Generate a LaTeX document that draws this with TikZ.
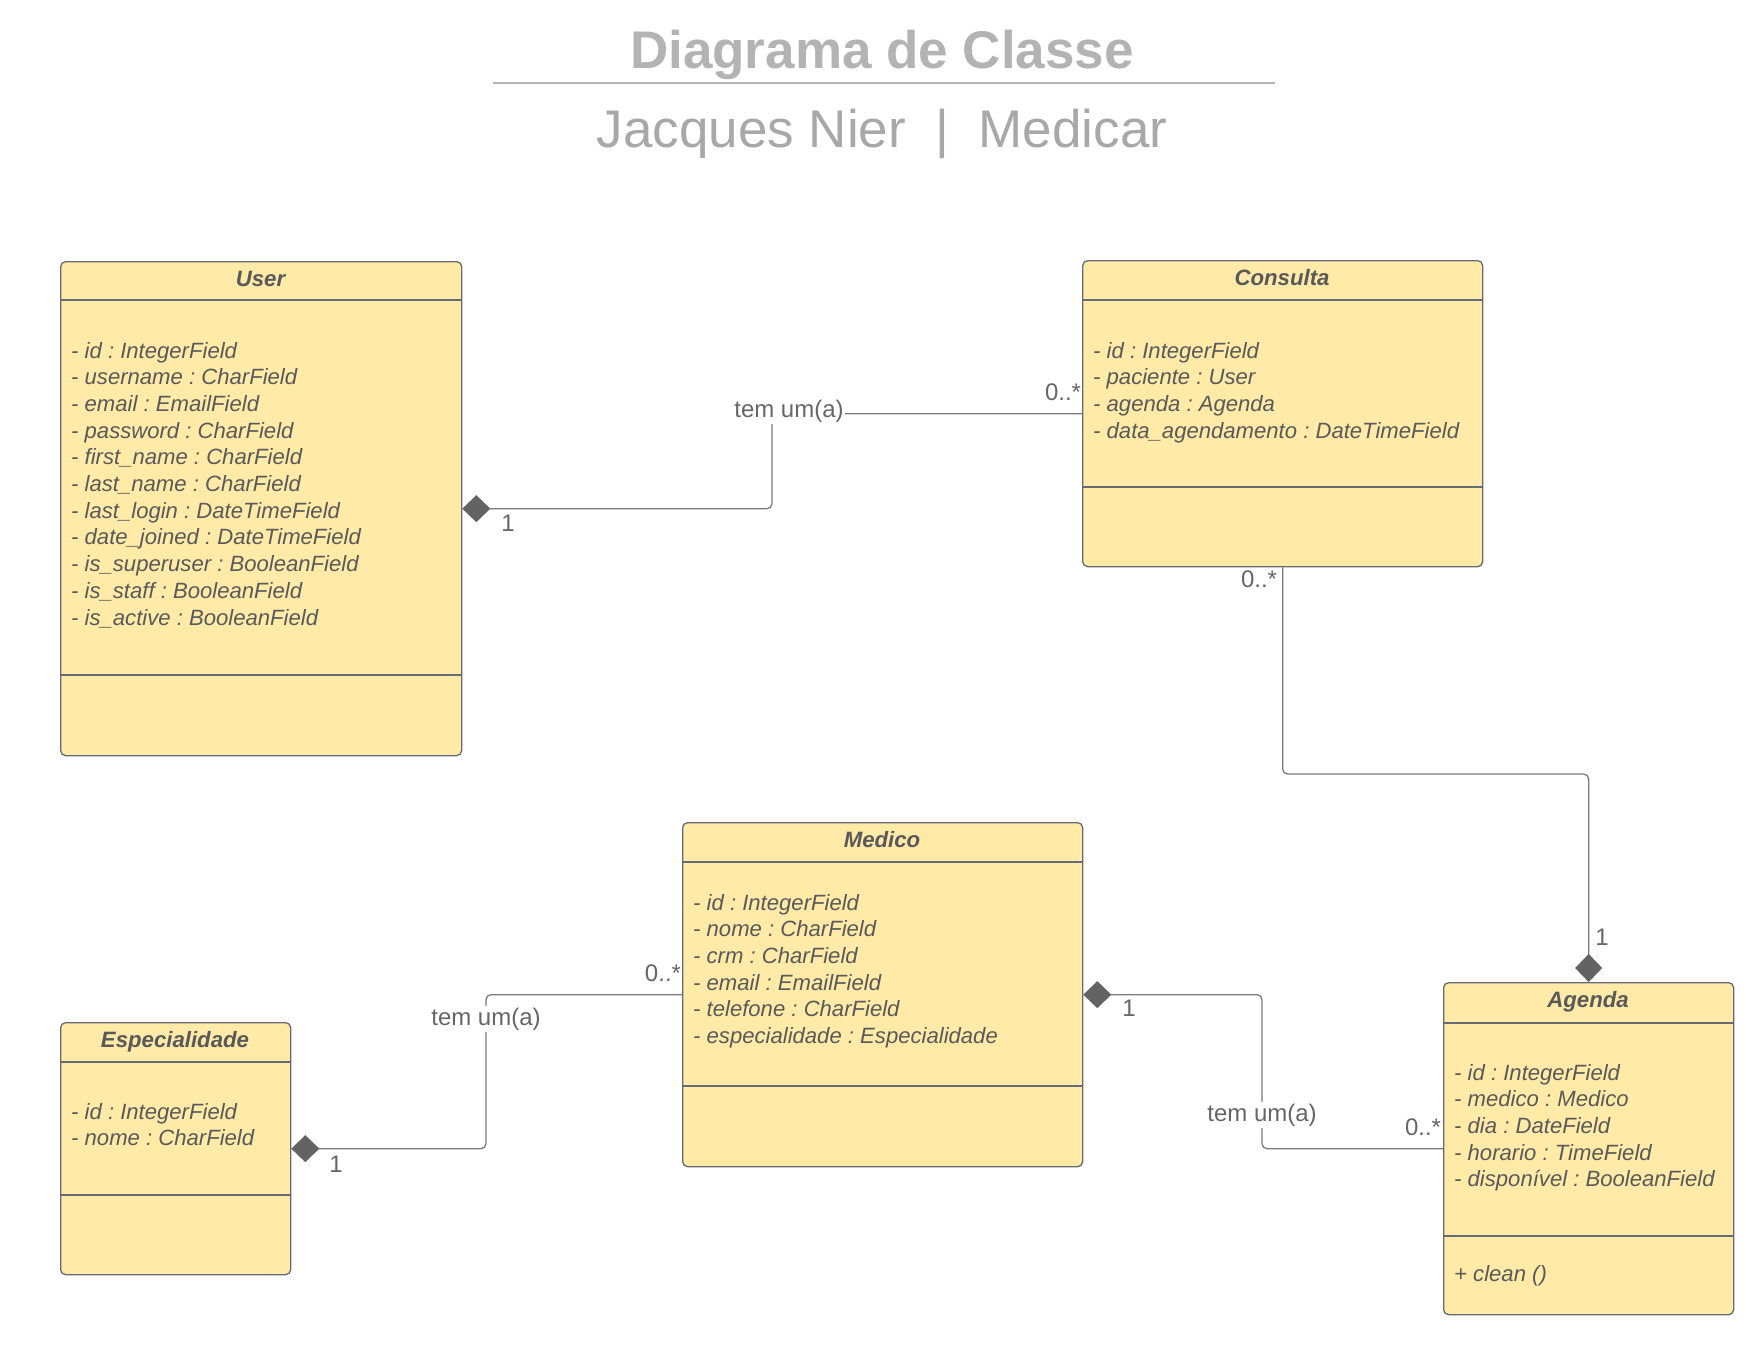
\documentclass[tikz,border=0pt]{standalone}
\usepackage{fontspec}
\setmainfont{Liberation Sans}
\usetikzlibrary{arrows.meta}
\frenchspacing
\definecolor{boxfill}{HTML}{FFEAA7}
\definecolor{boxline}{HTML}{666A73}
\definecolor{txt}{HTML}{595959}
\definecolor{lbl}{HTML}{666666}
\definecolor{connc}{HTML}{7A7A7A}
\definecolor{dia}{HTML}{636363}
\definecolor{ttl}{HTML}{B3B3B3}
\definecolor{subc}{HTML}{A8A8A8}
\tikzset{
  classbox/.style={draw=boxline, fill=boxfill, line width=1.3pt, rounded corners=5pt, inner sep=0pt, anchor=north west},
  divider/.style={draw=boxline, line width=1.3pt},
  ctitle/.style={anchor=base, inner sep=0pt, text=txt, font=\fontsize{22.2}{26.7}\selectfont\bfseries\itshape},
  attr/.style={anchor=base west, inner sep=0pt, text=txt, font=\fontsize{22.1}{26.7}\selectfont\itshape},
  conn/.style={draw=connc, line width=1.3pt, rounded corners=5pt},
  compstart/.style={{Diamond[length=28pt,width=27pt,fill=dia,color=dia]}-},
  compend/.style={-{Diamond[length=28pt,width=27pt,fill=dia,color=dia]}},
  mult/.style={inner sep=0pt, text=lbl, font=\fontsize{24}{28}\selectfont},
  assoc/.style={inner sep=1.5pt, fill=white, text=lbl, font=\fontsize{24}{28}\selectfont},
  heading/.style={anchor=base, inner sep=0pt, text=ttl, font=\fontsize{53}{60}\selectfont\bfseries},
  subheading/.style={anchor=base, inner sep=0pt, text=subc, font=\fontsize{53}{60}\selectfont},
}
\begin{document}
\begin{tikzpicture}[x=1pt, y=-1pt]
\useasboundingbox (0,0) rectangle (1763,1360);
\fill[white] (0,0) rectangle (1763,1360);

% Title
\node[heading] (title) at (882,68) {Diagrama de Classe};
\draw[ttl, line width=1.6pt] (493,83) -- (1275,83);
\node[subheading] (subtitle) at (882,147) {Jacques Nier~~|~~Medicar};

% User
\node[classbox, minimum width=401pt, minimum height=494pt] (user) at (60,261) {};
\draw[divider] (60,300) -- (461,300);
\draw[divider] (60,675) -- (461,675);
\node[ctitle] (usert) at (260.5,286) {User};
\foreach [count=\i] \t in {- id : IntegerField, - username : CharField, - email : EmailField, - password : CharField, - first\_name : CharField, - last\_name : CharField, - last\_login : DateTimeField, - date\_joined : DateTimeField, - is\_superuser : BooleanField, - is\_staff : BooleanField, - is\_active : BooleanField}
  \node[attr] (ua\i) at (71,{358+26.7*(\i-1)}) {\t};

% Consulta
\node[classbox, minimum width=400pt, minimum height=306pt] (consulta) at (1082,260) {};
\draw[divider] (1082,300) -- (1482,300);
\draw[divider] (1082,487) -- (1482,487);
\node[ctitle] (consultat) at (1282,285) {Consulta};
\foreach [count=\i] \t in {- id : IntegerField, - paciente : User, - agenda : Agenda, - data\_agendamento : DateTimeField}
  \node[attr] (ca\i) at (1093,{358+26.7*(\i-1)}) {\t};

% Medico
\node[classbox, minimum width=400pt, minimum height=344pt] (medico) at (682,822) {};
\draw[divider] (682,862) -- (1082,862);
\draw[divider] (682,1086) -- (1082,1086);
\node[ctitle] (medicot) at (882,847) {Medico};
\foreach [count=\i] \t in {- id : IntegerField, - nome : CharField, - crm : CharField, - email : EmailField, - telefone : CharField, - especialidade : Especialidade}
  \node[attr] (ma\i) at (693,{910+26.7*(\i-1)}) {\t};

% Especialidade
\node[classbox, minimum width=230pt, minimum height=252pt] (espec) at (60,1022) {};
\draw[divider] (60,1062) -- (290,1062);
\draw[divider] (60,1195) -- (290,1195);
\node[ctitle] (espect) at (175,1047) {Especialidade};
\foreach [count=\i] \t in {- id : IntegerField, - nome : CharField}
  \node[attr] (ea\i) at (71,{1119+26.7*(\i-1)}) {\t};

% Agenda
\node[classbox, minimum width=290pt, minimum height=332pt] (agenda) at (1443,982) {};
\draw[divider] (1443,1023) -- (1733,1023);
\draw[divider] (1443,1236) -- (1733,1236);
\node[ctitle] (agendat) at (1588,1007) {Agenda};
\foreach [count=\i] \t in {- id : IntegerField, - medico : Medico, - dia : DateField, - horario : TimeField, - disponível : BooleanField}
  \node[attr] (aa\i) at (1454,{1080+26.7*(\i-1)}) {\t};
\node[attr] (am1) at (1454,1281) {+ clean ()};

% Bend coordinates
\coordinate (k1) at (772,0);
\coordinate (k2) at (0,774);
\coordinate (k3) at (486,0);
\coordinate (k4) at (1262,0);

% Connectors
\draw[conn, compstart] (user.east) -- (k1 |- user.east) -- (k1 |- consulta.west) -- (consulta.west);
\node[assoc] (l1) at (789,411) {tem um(a)};
\node[mult] (m1a) at (508,523) {1};
\node[mult] (m1b) at (1063,392) {0..*};

\draw[conn, compend] (consulta.south) -- (consulta.south |- k2) -- (agenda.north |- k2) -- (agenda.north);
\node[mult] (m2a) at (1259,579) {0..*};
\node[mult] (m2b) at (1602,937) {1};

\draw[conn, compstart] (espec.east) -- (k3 |- espec.east) -- (k3 |- medico.west) -- (medico.west);
\node[assoc] (l3) at (486,1019) {tem um(a)};
\node[mult] (m3a) at (663,973) {0..*};
\node[mult] (m3b) at (336,1164) {1};

\draw[conn, compstart] (medico.east) -- (k4 |- medico.east) -- (k4 |- agenda.west) -- (agenda.west);
\node[assoc] (l4) at (1262,1115) {tem um(a)};
\node[mult] (m4a) at (1129,1008) {1};
\node[mult] (m4b) at (1423,1127) {0..*};
\end{tikzpicture}
\end{document}
